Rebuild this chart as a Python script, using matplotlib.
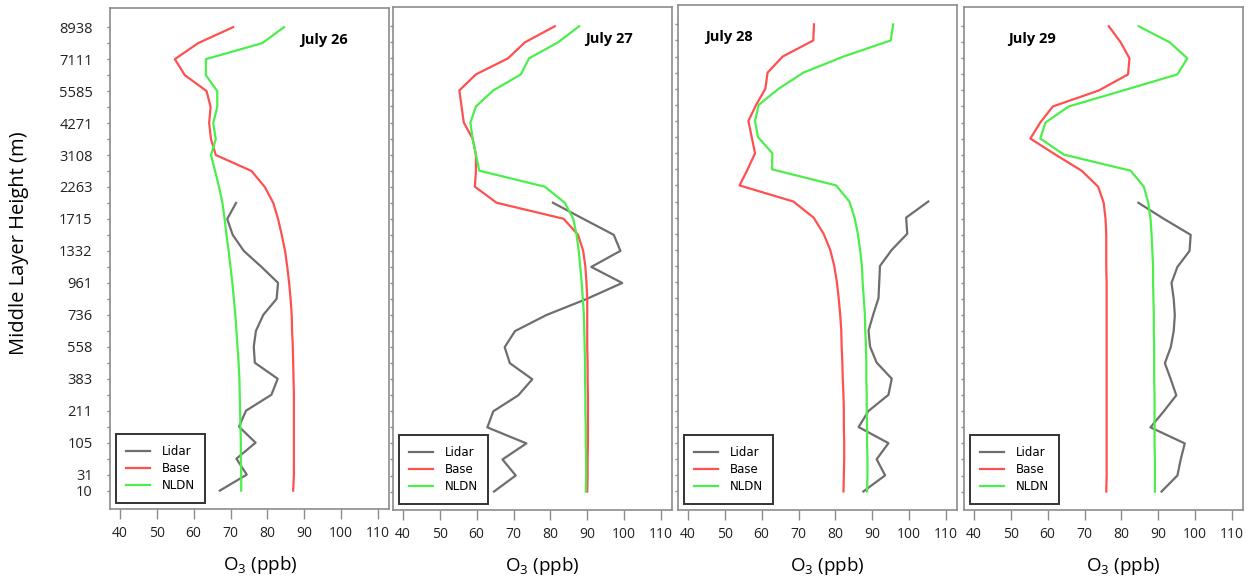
import matplotlib
from matplotlib import pyplot as plt

matplotlib.use("Agg")
plt.rcParams['font.family'] = ['Open Sans', 'DejaVu Sans']

# model layers (index 0 = surface), only some of them labelled on the axis
levels = list(range(30))
label_levels = [0, 1, 3, 5, 7, 9, 11, 13, 15, 17, 19, 21, 23, 25, 27, 29]
height_labels = ['10', '31', '105', '211', '383', '558', '736', '961', '1332',
                 '1715', '2263', '3108', '4271', '5585', '7111', '8938']
x_ticks = [40, 50, 60, 70, 80, 90, 100, 110]
days = ['July 26', 'July 27', 'July 28', 'July 29']

base_jul26 = [87.0, 87.2, 87.2, 87.2, 87.2, 87.2, 87.2, 87.1, 87.0, 86.9, 86.7, 86.6, 86.3, 85.9, 85.4,
              84.8, 83.9, 82.9, 81.6, 79.3, 75.7, 66.0, 64.7, 64.2, 64.6, 63.5, 57.6, 54.9, 61.2, 70.7]
nldn_jul26 = [72.9, 72.9, 72.8, 72.8, 72.7, 72.6, 72.5, 72.4, 72.2, 71.9, 71.6, 71.3, 70.9, 70.5, 70.0,
              69.5, 68.9, 68.4, 67.8, 66.9, 65.8, 64.7, 66.0, 65.3, 66.4, 66.4, 63.3, 63.3, 78.6, 84.5]
lidar_jul26 = [67.1, 74.4, 71.6, 76.8, 72.3, 74.2, 81.1, 82.8, 76.6, 76.3, 76.9, 78.9, 82.5, 82.9, 78.4,
               73.6, 70.6, 69.1, 71.5]

base_jul27 = [90.0, 90.1, 90.1, 90.2, 90.2, 90.2, 90.2, 90.1, 90.1, 90.0, 90.0, 90.0, 90.0, 89.8, 89.5,
              88.9, 87.5, 83.6, 65.4, 59.5, 59.8, 59.8, 58.9, 56.5, 55.9, 55.3, 59.8, 68.5, 73.1, 81.2]
nldn_jul27 = [89.6, 89.7, 89.7, 89.6, 89.6, 89.5, 89.5, 89.4, 89.4, 89.3, 89.2, 89.1, 88.8, 88.5, 88.1,
              87.7, 87.1, 86.2, 83.9, 78.5, 60.7, 59.8, 58.9, 58.3, 59.8, 64.5, 72.0, 74.2, 82.1, 87.8]
lidar_jul27 = [64.7, 70.6, 67.0, 73.5, 62.9, 64.5, 71.3, 75.1, 69.0, 67.6, 70.4, 78.9, 89.8, 99.5, 91.1,
               99.0, 97.2, 88.9, 80.7]

base_jul28 = [82.2, 82.3, 82.4, 82.4, 82.3, 82.3, 82.2, 82.0, 81.9, 81.7, 81.6, 81.3, 80.9, 80.4, 79.7,
              78.6, 76.8, 74.1, 68.6, 54.0, 56.2, 58.2, 57.3, 56.4, 58.5, 61.0, 61.6, 65.7, 74.0, 74.2]
nldn_jul28 = [88.6, 88.7, 88.7, 88.6, 88.6, 88.5, 88.5, 88.4, 88.4, 88.3, 88.1, 88.0, 87.7, 87.4, 87.2,
              86.7, 86.1, 85.2, 83.8, 80.2, 62.8, 62.9, 59.0, 58.2, 59.2, 64.6, 71.3, 82.2, 95.0, 95.7]
lidar_jul28 = [87.6, 93.5, 91.2, 94.4, 86.3, 89.0, 94.4, 95.3, 91.2, 89.4, 89.0, 90.3, 91.7, 91.9, 92.1,
               95.3, 99.5, 99.2, 105.2]

base_jul29 = [75.9, 76.0, 76.0, 76.0, 76.0, 76.0, 76.0, 76.0, 76.0, 76.0, 76.0, 76.0, 76.0, 76.0, 75.9,
              75.9, 75.9, 75.7, 75.2, 73.7, 69.2, 62.1, 55.3, 58.0, 61.4, 73.9, 81.8, 82.2, 79.8, 76.6]
nldn_jul29 = [89.1, 89.1, 89.1, 89.0, 89.0, 89.0, 89.0, 88.9, 88.9, 88.9, 88.8, 88.8, 88.7, 88.6, 88.6,
              88.4, 88.2, 87.9, 87.3, 86.1, 82.5, 64.4, 58.0, 59.4, 65.7, 80.5, 95.2, 97.9, 93.1, 84.7]
lidar_jul29 = [90.9, 95.2, 96.1, 97.2, 87.9, 91.5, 94.9, 93.4, 91.8, 93.4, 94.2, 94.5, 94.2, 93.6, 95.2,
               98.5, 98.8, 91.5, 84.6]

W, H = 1252, 581
# panel boxes in pixels: left, top, right, bottom
boxes = [(110, 8, 389, 509), (393, 7, 672, 510), (678, 5, 957, 510), (964, 7, 1243, 510)]
title_x = [0.767, 0.774, 0.183, 0.244]
xlabel_x = [0.54, 0.534, 0.534, 0.57]

SPINE = '#8c8c8c'


def draw_panel(ax, lidar, base, nldn, day, tx, lx, first):
    ax.plot(lidar, levels[:len(lidar)], color='#6e6e6e', lw=1.6, label='Lidar')
    ax.plot(base, levels, color='#ff5050', lw=1.6, label='Base')
    ax.plot(nldn, levels, color='#4cee4c', lw=1.6, label='NLDN')
    ax.set_xlim(37.3, 113.0)
    ax.set_ylim(-1.15, 30.2)
    for s in ax.spines.values():
        s.set_color(SPINE)
        s.set_linewidth(1.2)
    ax.set_xticks(x_ticks)
    ax.tick_params(axis='x', length=7, width=1, color=SPINE, pad=5, labelsize=10, labelcolor='#222222')
    ax.set_yticks(label_levels)
    ax.set_yticks([l for l in levels if l not in label_levels], minor=True)
    ax.tick_params(axis='y', which='both', length=2.5, width=1, color=SPINE, pad=10,
                   labelsize=10.5, labelcolor='#222222')
    if first:
        ax.set_yticklabels(height_labels)
        ax.set_ylabel('Middle Layer Height (m)', fontsize=14.5)
        ax.yaxis.set_label_coords(-0.29, 0.53)
    else:
        ax.set_yticklabels([])
    ax.set_xlabel(r'O$_\mathregular{3}$ (ppb)', fontsize=13.5)
    ax.xaxis.set_label_coords(lx, -0.09)
    ax.text(tx, 0.936, day, transform=ax.transAxes, ha='center', va='center',
            fontsize=10.5, fontweight='bold')
    leg = ax.legend(loc='lower left', bbox_to_anchor=(0.02, 0.012), borderaxespad=0,
                    prop={'family': 'DejaVu Sans', 'size': 8.5}, fancybox=False, framealpha=1,
                    borderpad=0.9, handletextpad=1.0, labelspacing=0.35, handlelength=2.0)
    leg.get_frame().set_edgecolor('#333333')
    leg.get_frame().set_linewidth(1.4)


fig = plt.figure(figsize=(W / 100, H / 100), dpi=100)
series = [(lidar_jul26, base_jul26, nldn_jul26), (lidar_jul27, base_jul27, nldn_jul27),
          (lidar_jul28, base_jul28, nldn_jul28), (lidar_jul29, base_jul29, nldn_jul29)]
for k, (l, t, r, b) in enumerate(boxes):
    ax = fig.add_axes([l / W, (H - b) / H, (r - l) / W, (b - t) / H])
    lidar, base, nldn = series[k]
    draw_panel(ax, lidar, base, nldn, days[k], title_x[k], xlabel_x[k], k == 0)

fig.savefig('out.png', dpi=100)
